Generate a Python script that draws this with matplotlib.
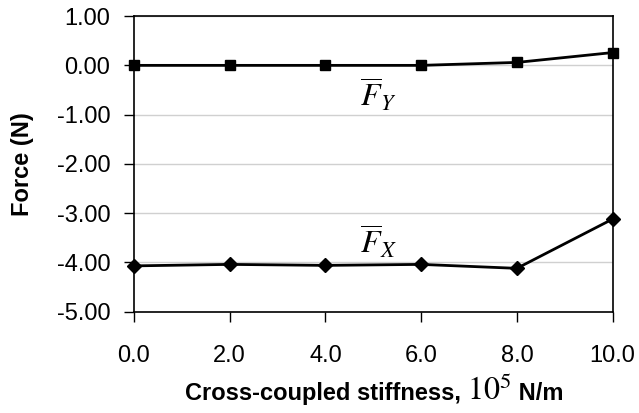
import matplotlib.pyplot as plt
import numpy as np

stiffness = [0.0, 2.0, 4.0, 6.0, 8.0, 10.0]
force_y = [0.0, 0.0, 0.0, 0.0, 0.06, 0.26]
force_x = [-4.07, -4.04, -4.06, -4.04, -4.12, -3.12]

plt.rcParams['font.family'] = ['Liberation Sans', 'DejaVu Sans']
plt.rcParams['mathtext.fontset'] = 'stix'

fig = plt.figure(figsize=(6.39, 4.13), dpi=100)
ax = fig.add_axes([0.2097, 0.2453, 0.749, 0.7157])

ax.plot(stiffness, force_y, color='black', lw=2, marker='s', ms=7.5, zorder=3, clip_on=False)
ax.plot(stiffness, force_x, color='black', lw=2, marker='D', ms=7.5, zorder=3, clip_on=False)

ax.set_xlim(0, 10)
ax.set_ylim(-5, 1)
ax.set_xticks(np.arange(0, 11, 2))
ax.set_yticks(np.arange(-5, 2, 1))
ax.set_xticklabels(['%.1f' % v for v in np.arange(0, 11, 2)])
ax.set_yticklabels(['%.2f' % v for v in np.arange(-5, 2, 1)])
ax.yaxis.grid(True, color='#d0d0d0', lw=1)
ax.set_axisbelow(True)
ax.tick_params(direction='out', length=7, width=1, labelsize=17)
ax.tick_params(axis='y', pad=10)
ax.tick_params(axis='x', pad=17)
for s in ax.spines.values():
    s.set_linewidth(1.2)

ax.text(5.1, -0.6, r'$\overline{F}_Y$', fontsize=23, ha='center', va='center')
ax.text(5.1, -3.6, r'$\overline{F}_X$', fontsize=23, ha='center', va='center')

ax.set_ylabel('Force (N)', fontsize=17, fontweight='bold')
ax.yaxis.set_label_coords((22 - 134) / 479, 0.5)
ax.yaxis.label.set_va('center')

# x label in pieces: bold sans text, then a larger serif 10^5, then N/m
parts = [('Cross-coupled stiffness, ', dict(fontsize=17, fontweight='bold')),
         (r'$\mathrm{10}^{5}$', dict(fontsize=23)),
         (' N/m', dict(fontsize=17, fontweight='bold'))]
fig.canvas.draw()
r = fig.canvas.get_renderer()
base_y = 1 - 400 / 413
texts = []
for s, kw in parts:
    t = fig.text(0, base_y, s, va='baseline', ha='left', **kw)
    texts.append(t)
widths = [t.get_window_extent(r).width for t in texts]
x = (374 - sum(widths) / 2) / 639
for t, w in zip(texts, widths):
    t.set_x(x)
    x += w / 639

fig.savefig('out.png', dpi=100)
